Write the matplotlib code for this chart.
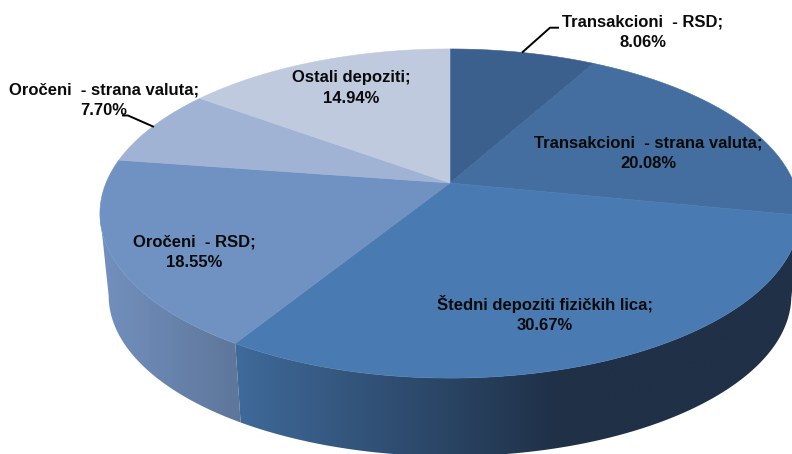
import numpy as np
import matplotlib
matplotlib.use("Agg")
import matplotlib.pyplot as plt
from matplotlib.colors import to_rgb
from matplotlib.patches import Polygon

plt.rcParams['font.family'] = ['Liberation Sans', 'DejaVu Sans']

categories = ["Transakcioni  - RSD", "Transakcioni  - strana valuta", "Štedni depoziti fizičkih lica",
              "Oročeni  - RSD", "Oročeni  - strana valuta", "Ostali depoziti"]
shares = [8.06, 20.08, 30.67, 18.55, 7.70, 14.94]
top_colors = ["#3b608d", "#436e9f", "#4a7ab2", "#7092c3", "#a0b3d4", "#bfcadf"]
side_left = ["#1f3047", "#1f3047", "#3f6a9a", "#7391bf", "#7391bf", "#7391bf"]
side_right = ["#1f3047", "#1f3047", "#1f3047", "#5d7599", "#5d7599", "#5d7599"]
label_xy = [(643, 32), (648, 153), (545, 314), (194, 252), (104, 100), (351, 88)]
leaders = {0: [(522.7, 52), (550, 27.7), (558, 27.7)], 4: [(153, 126.5), (128, 115.5), (123, 115.5)]}

CX, CY, SX, SY, K = 450, 183, 344, 158.9, 0.1855
DEPTH, BOT_SCALE = 83, 0.975


def project(theta, r=1.0, scale=1.0, dy=0.0):
    """clockwise-from-top angle on a unit disc -> perspective picture position"""
    x, y = r * np.sin(theta), r * np.cos(theta)
    w = 1 + K * y
    return CX + scale * SX * x / w, CY - scale * SY * y / w + dy


fig = plt.figure(figsize=(7.92, 4.54), dpi=100)
ax = fig.add_axes([0, 0, 1, 1])
ax.axis('off')

edges = np.concatenate([[0], np.cumsum(shares)]) / np.sum(shares) * 2 * np.pi

# the wall runs between the two silhouette angles, where the disc is widest
sweep = np.linspace(0, 2 * np.pi, 7201)
sx = project(sweep)[0]
sil_right, sil_left = sweep[np.argmax(sx)], sweep[np.argmin(sx)]

for i in range(len(shares)):
    a0, a1 = edges[i], edges[i + 1]
    lo, hi = max(a0, sil_right), min(a1, sil_left)
    if hi <= lo:
        continue
    steps = np.linspace(lo, hi, 200)
    xt, yt = project(steps)
    xb, yb = project(steps, scale=BOT_SCALE, dy=DEPTH)
    poly = Polygon(np.c_[np.r_[xt, xb[::-1]], np.r_[yt, yb[::-1]]], closed=True,
                   transform=ax.transData, facecolor='none', edgecolor='none')
    ax.add_patch(poly)
    c0, c1 = np.array(to_rgb(side_left[i])), np.array(to_rgb(side_right[i]))
    x0, x1 = min(xt.min(), xb.min()) - 2, max(xt.max(), xb.max()) + 2
    if i == 2:
        ref0, ref1 = project(a1)[0], 560
    else:
        ref0, ref1 = x0, x1
    gx = np.linspace(x0, x1, 512)
    t = np.clip((gx - ref0) / (ref1 - ref0), 0, 1)[None, :, None]
    img = c0[None, None, :] + (c1 - c0)[None, None, :] * t
    im = ax.imshow(img, extent=(x0, x1, yb.max() + 2, yt.min() - 2), aspect='auto',
                   interpolation='bilinear', zorder=2)
    im.set_clip_path(poly)

# top face
for i in range(len(shares)):
    th = np.linspace(edges[i], edges[i + 1], 160)
    px, py = project(th)
    ax.fill(np.r_[CX, px], np.r_[CY, py], facecolor=top_colors[i], edgecolor=top_colors[i], lw=0.4, zorder=3)

for i, pts in leaders.items():
    ax.plot(*zip(*pts), color='black', lw=1.4, zorder=4, solid_joinstyle='round')

for name, val, (x, y) in zip(categories, shares, label_xy):
    ax.text(x, y, f"{name};\n{val:.2f}%", ha='center', va='center', fontsize=12, fontweight='bold',
            color='#0a0a0a', linespacing=1.45, zorder=5)

ax.set_xlim(0, 792)
ax.set_ylim(454, 0)
fig.savefig("out.png", dpi=100)
